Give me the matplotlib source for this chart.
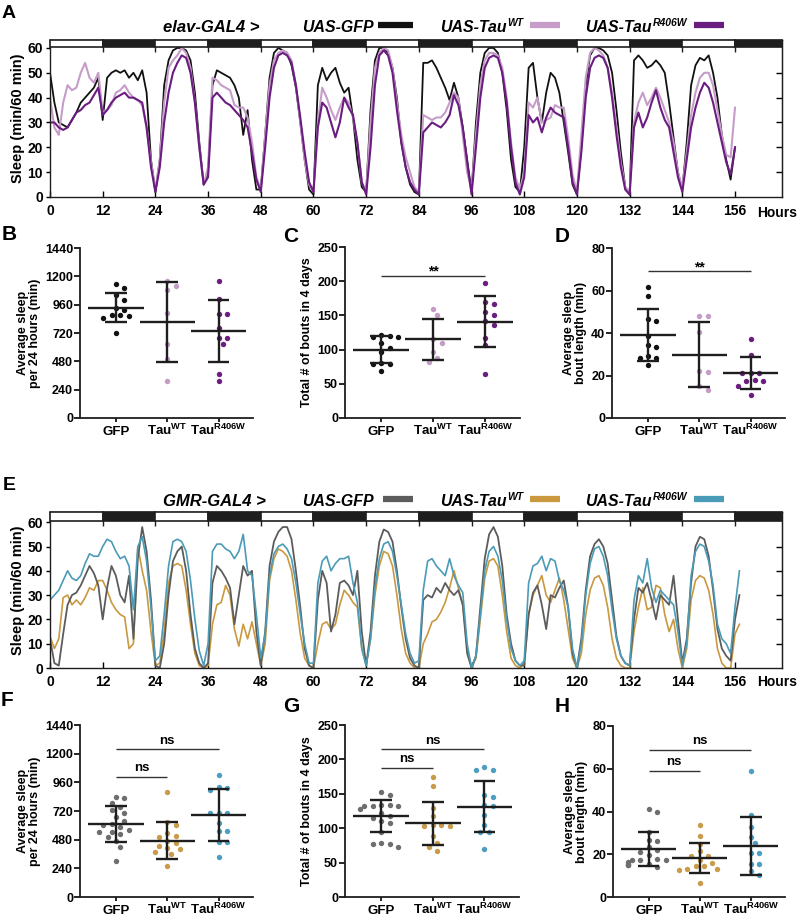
import numpy as np
import matplotlib
matplotlib.use('Agg')
import matplotlib.pyplot as plt
from matplotlib.patches import Rectangle
from matplotlib.lines import Line2D

plt.rcParams['font.family'] = ['Liberation Sans', 'DejaVu Sans']
plt.rcParams['font.weight'] = 'bold'
plt.rcParams['axes.labelweight'] = 'bold'
plt.rcParams['mathtext.fontset'] = 'custom'
plt.rcParams['mathtext.rm'] = 'Liberation Sans:bold'
plt.rcParams['mathtext.bf'] = 'Liberation Sans:bold'
plt.rcParams['mathtext.it'] = 'Liberation Sans:italic:bold'

# ---------------- data ----------------
# hourly sleep (min / 60 min), panel A (elav-GAL4)
elav_gfp = [50, 38, 30, 29, 28, 31, 34, 38, 40, 42, 44, 48, 31,
            48, 50, 51, 50, 51, 48, 50, 47, 51, 42, 15, 2,
            15, 45, 55, 59, 60, 60, 59, 55, 42, 22, 5, 10,
            45, 51, 50, 49, 48, 45, 40, 25, 35, 15, 3, 3,
            25, 48, 58, 60, 59, 58, 53, 44, 30, 15, 3, 1,
            45, 52, 47, 50, 52, 46, 42, 44, 32, 15, 4, 2,
            35, 55, 60, 60, 58, 52, 40, 22, 12, 5, 2, 1,
            54, 54, 55, 52, 48, 44, 39, 46, 40, 28, 15, 2,
            30, 50, 58, 60, 60, 58, 50, 35, 15, 4, 2, 20,
            52, 54, 40, 30, 42, 50, 48, 42, 30, 18, 5, 1,
            20, 45, 57, 60, 60, 59, 57, 50, 35, 18, 4, 1,
            55, 57, 55, 52, 53, 55, 53, 50, 38, 24, 10, 3,
            22, 45, 53, 56, 55, 57, 50, 40, 25, 15, 7, 20]
elav_tauwt = [40, 28, 25, 38, 45, 43, 44, 50, 54, 48, 46, 50, 34,
              35, 37, 42, 43, 45, 42, 40, 39, 37, 28, 14, 3,
              15, 38, 52, 55, 57, 60, 58, 52, 38, 20, 5, 12,
              48, 47, 45, 44, 43, 37, 36, 36, 32, 22, 8, 3,
              25, 45, 55, 58, 59, 58, 55, 45, 30, 15, 5, 2,
              30, 44, 40, 35, 31, 36, 40, 38, 32, 22, 6, 2,
              30, 52, 58, 60, 59, 52, 38, 25, 16, 10, 4, 2,
              33, 32, 31, 32, 32, 34, 38, 42, 40, 25, 10, 3,
              25, 45, 55, 58, 58, 57, 52, 40, 22, 8, 3, 10,
              38, 36, 40, 30, 31, 32, 37, 36, 36, 24, 9, 2,
              25, 48, 58, 60, 59, 57, 52, 42, 28, 14, 4, 2,
              30, 38, 42, 37, 40, 44, 40, 35, 30, 22, 10, 4,
              18, 33, 42, 48, 50, 50, 45, 35, 25, 17, 16, 36]
elav_r406w = [30, 30, 28, 27, 28, 31, 34, 35, 37, 38, 41, 44, 33,
              35, 38, 40, 41, 42, 40, 40, 39, 38, 28, 12, 2,
              12, 30, 42, 50, 54, 57, 56, 50, 38, 20, 5, 8,
              40, 42, 40, 38, 37, 35, 33, 31, 28, 18, 7, 2,
              20, 40, 52, 57, 58, 57, 54, 45, 32, 18, 6, 2,
              28, 38, 36, 30, 24, 30, 40, 36, 33, 22, 6, 1,
              20, 45, 57, 59, 57, 50, 35, 22, 12, 6, 3, 1,
              26, 28, 30, 29, 28, 30, 33, 41, 37, 28, 14, 1,
              20, 40, 52, 56, 57, 56, 50, 38, 20, 6, 1, 8,
              33, 30, 32, 26, 32, 36, 34, 33, 32, 20, 6, 1,
              18, 40, 52, 56, 57, 56, 52, 40, 25, 12, 3, 1,
              28, 34, 28, 32, 38, 43, 36, 31, 28, 18, 8, 2,
              15, 28, 36, 42, 46, 44, 38, 30, 22, 14, 9, 20]

# panel E (GMR-GAL4)
gmr_gfp = [12, 2, 1, 14, 26, 30, 31, 34, 38, 42, 39, 34, 20,
           33, 42, 38, 30, 27, 38, 12, 45, 58, 48, 28, 1,
           0, 10, 30, 44, 48, 50, 40, 22, 8, 2, 0, 2,
           35, 42, 40, 37, 33, 18, 30, 42, 38, 40, 15, 1,
           15, 42, 52, 56, 58, 58, 53, 40, 25, 8, 1, 0,
           28, 40, 35, 15, 22, 35, 36, 34, 30, 40, 15, 1,
           15, 38, 52, 57, 56, 52, 40, 25, 12, 4, 1, 0,
           28, 30, 29, 33, 31, 35, 32, 30, 32, 26, 6, 0,
           5, 25, 45, 55, 58, 54, 42, 22, 10, 3, 1, 1,
           22, 31, 34, 26, 16, 30, 29, 33, 36, 25, 6, 0,
           12, 32, 46, 51, 53, 50, 43, 28, 13, 5, 2, 1,
           20, 33, 31, 35, 28, 20, 30, 28, 26, 38, 20, 2,
           12, 35, 50, 54, 53, 46, 32, 16, 8, 5, 3, 20, 30]
gmr_tauwt = [13, 8, 12, 29, 30, 26, 28, 26, 29, 33, 32, 36, 36,
             32, 27, 24, 22, 21, 8, 10, 50, 40, 32, 15, 1,
             2, 15, 35, 42, 43, 42, 32, 18, 6, 1, 0, 1,
             18, 26, 27, 34, 30, 16, 9, 18, 12, 19, 10, 1,
             10, 36, 45, 49, 48, 46, 40, 28, 14, 4, 1, 0,
             10, 18, 19, 16, 18, 26, 32, 30, 27, 25, 8, 1,
             12, 30, 42, 48, 47, 42, 30, 16, 6, 2, 0, 0,
             10, 14, 19, 20, 23, 27, 33, 40, 33, 26, 8, 0,
             4, 20, 37, 44, 45, 42, 30, 15, 4, 1, 0, 2,
             22, 30, 34, 38, 30, 27, 32, 37, 28, 16, 4, 0,
             6, 22, 32, 37, 38, 34, 25, 12, 4, 1, 0, 0,
             15, 25, 33, 24, 25, 34, 33, 22, 15, 20, 8, 0,
             8, 28, 36, 38, 37, 32, 22, 8, 2, 0, 0, 14, 18]
gmr_r406w = [28, 30, 32, 36, 40, 37, 36, 38, 43, 47, 46, 46, 50,
             53, 52, 48, 45, 46, 42, 24, 50, 54, 44, 25, 3,
             5, 22, 42, 52, 53, 52, 48, 36, 20, 7, 1, 10,
             48, 51, 51, 49, 48, 45, 48, 55, 40, 38, 22, 4,
             14, 38, 47, 50, 51, 49, 45, 35, 22, 10, 2, 2,
             35, 44, 46, 40, 43, 45, 45, 46, 35, 27, 8, 1,
             12, 33, 45, 51, 52, 48, 38, 26, 14, 6, 2, 3,
             32, 44, 45, 42, 40, 38, 45, 38, 34, 31, 10, 0,
             5, 22, 40, 48, 50, 46, 36, 20, 8, 3, 1, 3,
             35, 42, 43, 46, 40, 45, 44, 36, 32, 25, 8, 0,
             10, 30, 43, 49, 50, 46, 38, 24, 12, 5, 2, 1,
             28, 38, 35, 45, 33, 27, 32, 30, 28, 26, 15, 1,
             10, 38, 48, 51, 50, 44, 34, 18, 12, 10, 6, 25, 40]

groups = ['GFP', 'Tau$^{\\mathbf{WT}}$', 'Tau$^{\\mathbf{R406W}}$']

# panel B: average sleep per 24 h (min)
b_vals = [[1138, 1101, 1045, 1002, 932, 918, 875, 870, 861, 850, 720],
          [1163, 1121, 1081, 889, 630, 503, 311],
          [1158, 1011, 881, 881, 762, 678, 678, 630, 376, 311]]
b_mean = [935, 815, 737]
b_sd = [125, 338, 265]
# panel C: total bouts in 4 days
c_vals = [[122, 120, 119, 118, 110, 102, 97, 80, 79, 79, 69],
          [160, 150, 115, 110, 97, 87, 82],
          [198, 169, 166, 155, 150, 142, 136, 117, 106, 65]]
c_mean = [100, 115, 141]
c_sd = [20, 30, 37]
# panel D: bout length (min)
d_vals = [[61.6, 57.3, 46.6, 45.5, 38.7, 34.5, 33.4, 29.0, 28.2, 28.2, 24.8],
          [48.2, 47.8, 40.3, 22.0, 21.6, 14.9, 13.3],
          [37.3, 29.5, 21.2, 21.2, 21.2, 18.0, 17.6, 17.6, 15.2, 10.7]]
d_mean = [39.2, 29.8, 21.2]
d_sd = [12.2, 15.2, 7.6]
# panel F
f_vals = [[841, 833, 791, 757, 730, 700, 668, 640, 610, 600, 590, 560, 548, 543,
           530, 500, 470, 420, 300],
          [883, 627, 600, 540, 510, 500, 470, 450, 430, 410, 400, 380, 360, 260],
          [1022, 925, 911, 900, 707, 707, 700, 620, 549, 549, 460, 460, 334]]
f_mean = [613, 471, 688]
f_sd = [152, 155, 215]
# panel G
g_vals = [[152, 148, 134, 133, 132, 132, 132, 128, 122, 118, 115, 110, 107, 94,
           78, 77, 77, 73],
          [174, 162, 130, 118, 105, 104, 103, 103, 88, 79, 73, 67],
          [189, 185, 184, 148, 145, 133, 132, 119, 104, 95, 94, 70]]
g_mean = [117.5, 107, 131.5]
g_sd = [23.5, 31.5, 37]
# panel H
h_vals = [[41.4, 39.8, 30.5, 26.9, 26.0, 23.5, 21.9, 21.0, 19.5, 18.0, 17.2, 17.2,
           17.2, 16.5, 15.6, 15.6, 14.8, 14.8, 14.0],
          [33.6, 28.4, 25.0, 21.4, 19.0, 19.0, 17.5, 16.0, 14.4, 14.4, 13.3, 13.3,
           12.5, 6.7],
          [58.9, 38.3, 32.8, 28.1, 25.3, 20.6, 20.6, 15.6, 15.6, 12.0, 10.2]]
h_mean = [22.3, 18.3, 23.9]
h_sd = [8.0, 7.0, 13.4]

# ---------------- layout helpers ----------------
W, H = 799, 917
fig = plt.figure(figsize=(W / 100, H / 100), dpi=100)
renderer = fig.canvas.get_renderer()
INK = '#1e1e1e'
XMAX = 166.7


def px_axes(left, top, right, bottom):
    return fig.add_axes([left / W, 1 - bottom / H, (right - left) / W, (bottom - top) / H])


def letter(x, y, s, size=15):
    fig.text(x / W, 1 - y / H, s, fontsize=size, fontweight='bold', ha='center', va='center')


def header(y_base, prefix, items):
    fig.text(163 / W, 1 - y_base / H, prefix, fontsize=12, fontweight='bold',
             style='italic', va='baseline')
    for x, label, sup, b0, b1, col in items:
        t = fig.text(x / W, 1 - y_base / H, label, fontsize=11.4, fontweight='bold',
                     style='italic', va='baseline')
        if sup:
            x1 = t.get_window_extent(renderer).x1
            fig.text((x1 + 1) / W, 1 - (y_base - 6) / H, sup, fontsize=7.5,
                     fontweight='bold', style='italic', va='baseline')
        yb = 1 - (y_base - 7) / H
        fig.add_artist(Line2D([b0 / W, b1 / W], [yb, yb], transform=fig.transFigure,
                              color=col, lw=4.5, solid_capstyle='butt'))


def trace_panel(ax, series, colors, lws, ytop):
    for s, c, lw in zip(series, colors, lws):
        ax.plot(np.arange(len(s)), s, color=c, lw=lw, solid_joinstyle='round')
    ax.set_xlim(0, XMAX)
    ax.set_ylim(0, ytop)
    for i in range(14):
        start = i * 12
        width = min(12, XMAX - start)
        fc = 'white' if i % 2 == 0 else INK
        ax.add_patch(Rectangle((start, 60.4), width, ytop - 60.4, fc=fc, ec=INK,
                               lw=1.2, clip_on=False, zorder=5))
    ax.vlines(np.arange(12, 157, 12), 58.4, 60.4, color=INK, lw=1)
    ax.set_xticks(np.arange(0, 157, 12))
    ax.tick_params(axis='x', direction='in', length=4, width=1, labelsize=10, pad=5)
    ax.set_yticks(range(0, 61, 10))
    ax.tick_params(axis='y', direction='out', length=3, width=1, labelsize=10, pad=2)
    sec = ax.secondary_yaxis('right')
    sec.set_yticks(range(10, 60, 10))
    sec.tick_params(direction='in', length=4, width=1, labelright=False)
    sec.spines['right'].set_color(INK)
    for sp in ax.spines.values():
        sp.set_color(INK)
        sp.set_linewidth(1)
    ax.set_ylabel('Sleep (min/60 min)', fontsize=10.5, labelpad=2)


def swarm(ax, vals, center, d_px=7.0):
    trans = ax.transData
    pts = trans.transform(np.column_stack([np.full(len(vals), center), vals]))
    x_unit = trans.transform((1, 0))[0] - trans.transform((0, 0))[0]
    order = np.argsort(-np.asarray(vals, dtype=float), kind='stable')
    placed = []
    offs = np.zeros(len(vals))
    for idx in order:
        y = pts[idx, 1]
        for k in [0, 1, -1, 2, -2, 3, -3, 4, -4, 5, -5]:
            x = k * d_px * 0.6
            if all(np.hypot(x - px, y - py) >= d_px for px, py in placed):
                break
        placed.append((x, y))
        offs[idx] = x / x_unit
    return offs


def dot_panel(ax, vals, means, sds, colors, ymax, ystep, ylabel, sigs=()):
    ax.set_xlim(-0.7, 2.67)
    ax.set_ylim(0, ymax)
    for sp in ['top', 'right']:
        ax.spines[sp].set_visible(False)
    for sp in ['left', 'bottom']:
        ax.spines[sp].set_linewidth(1.3)
        ax.spines[sp].set_color(INK)
    for i, (v, m, sd, c) in enumerate(zip(vals, means, sds, colors)):
        offs = swarm(ax, v, i)
        ax.scatter(i + offs, v, s=15, color=c, linewidths=0, zorder=3)
        ax.hlines(m, i - 0.54, i + 0.54, color=INK, lw=1.7, zorder=4)
        ax.vlines(i, m - sd, m + sd, color=INK, lw=1.7, zorder=4)
        ax.hlines([m - sd, m + sd], i - 0.21, i + 0.21, color=INK, lw=1.7, zorder=4)
    for x0, x1, y, txt, dy in sigs:
        ax.hlines(y, x0, x1, color='#333333', lw=1)
        ax.annotate(txt, ((x0 + x1) / 2, y), xytext=(0, dy), textcoords='offset points',
                    ha='center', va='baseline', fontsize=10 if txt == '**' else 9.5,
                    fontweight='bold')
    ax.set_xticks(range(3))
    ax.set_xticklabels(groups, fontsize=9.5, va='baseline')
    ax.set_yticks(np.arange(0, ymax + 1, ystep))
    ax.tick_params(axis='y', length=4, width=1.2, labelsize=9, pad=1)
    ax.tick_params(axis='x', length=3, width=1.2, pad=9.5)
    ax.set_ylabel(ylabel, fontsize=9, labelpad=3, linespacing=1.0)


# ---------------- panel A ----------------
purples = ['#111111', '#c59dc8', '#6b1c80']
axA = px_axes(50, 40, 782, 197)
trace_panel(axA, [elav_gfp, elav_tauwt, elav_r406w], purples, [1.3, 1.5, 1.5], 63.2)
header(32, 'elav-GAL4 >', [(302, 'UAS-GFP', '', 378, 413, purples[0]),
                           (440, 'UAS-Tau', 'WT', 530, 560, purples[1]),
                           (585, 'UAS-Tau', 'R406W', 694, 724, purples[2])])
fig.text(757 / W, 1 - 213 / H, 'Hours', fontsize=10, fontweight='bold', va='center')

# ---------------- panel E ----------------
gmr_cols = ['#5c5c5c', '#c9983f', '#4a9bb8']
axE = px_axes(50, 512, 782, 668)
trace_panel(axE, [gmr_tauwt, gmr_gfp, gmr_r406w], [gmr_cols[1], gmr_cols[0], gmr_cols[2]],
            [1.2, 1.3, 1.2], 64.2)
header(506, 'GMR-GAL4 >', [(302, 'UAS-GFP', '', 383, 413, gmr_cols[0]),
                           (440, 'UAS-Tau', 'WT', 530, 560, gmr_cols[1]),
                           (585, 'UAS-Tau', 'R406W', 694, 724, gmr_cols[2])])
fig.text(757 / W, 1 - 682 / H, 'Hours', fontsize=10, fontweight='bold', va='center')

# ---------------- dot panels ----------------
b_cols = ['#111111', '#c39bc6', '#6c1e80']
f_cols = ['#6e6e6e', '#c99b4a', '#4c9fc2']

axB = px_axes(80, 248, 253, 418)
dot_panel(axB, b_vals, b_mean, b_sd, b_cols, 1440, 240, 'Average sleep\nper 24 hours (min)')
axC = px_axes(345, 247, 520, 418)
dot_panel(axC, c_vals, c_mean, c_sd, b_cols, 250, 50, 'Total # of bouts in 4 days',
          [(0, 2, 207, '**', 0.5)])
axD = px_axes(612, 248, 785, 418)
dot_panel(axD, d_vals, d_mean, d_sd, b_cols, 80, 20, 'Average sleep\nbout length (min)',
          [(0, 2, 69, '**', 0)])

axF = px_axes(80, 725, 253, 897)
dot_panel(axF, f_vals, f_mean, f_sd, f_cols, 1440, 240, 'Average sleep\nper 24 hours (min)',
          [(0, 2, 1237, 'ns', 4), (0, 1, 1005, 'ns', 4)])
axG = px_axes(345, 725, 519, 897)
dot_panel(axG, g_vals, g_mean, g_sd, f_cols, 250, 50, 'Total # of bouts in 4 days',
          [(0, 2, 215, 'ns', 4), (0, 1, 188, 'ns', 4)])
axH = px_axes(613, 726, 785, 897)
dot_panel(axH, h_vals, h_mean, h_sd, f_cols, 80, 20, 'Average sleep\nbout length (min)',
          [(0, 2, 69, 'ns', 4), (0, 1, 59, 'ns', 4)])

# panel letters
letter(9, 14, 'A', 14)
letter(9, 235, 'B')
letter(291, 236, 'C')
letter(562, 237, 'D')
letter(9, 486, 'E', 14)
letter(7, 700, 'F')
letter(291, 706, 'G')
letter(562, 707, 'H')

fig.savefig('out.png', dpi=100)
